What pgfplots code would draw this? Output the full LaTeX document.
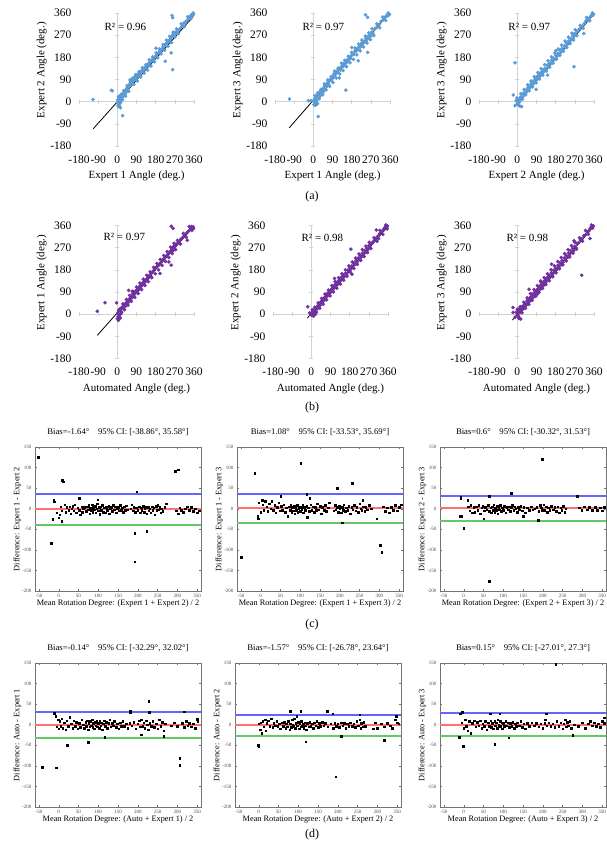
\documentclass[border=0pt]{standalone}
\usepackage{fontspec}
\setmainfont{Liberation Serif}
\usepackage{pgfplots}
\pgfplotsset{compat=1.18}
\definecolor{xlblue}{HTML}{5B9BD5}
\definecolor{xlpurple}{HTML}{7030A0}
\definecolor{loaup}{HTML}{6464FF}
\definecolor{biasln}{HTML}{FF7070}
\definecolor{loalo}{HTML}{64C864}

\pgfplotsset{
  sc/.style={
    scale only axis, width=115pt, height=133pt,
    xmin=-180, xmax=360, ymin=-180, ymax=360,
    xtick={-180,-90,0,90,180,270,360}, ytick={-180,-90,0,90,180,270,360},
    xticklabels={-180,-90,0,90,180,270,360},
    yticklabels={-180,-90,0,90,180,270,360},
    axis line style={draw=none}, tick style={draw=none},
    tick label style={font=\fontsize{11.5}{12}\selectfont},
    xticklabel style={yshift=-6pt},
    yticklabel style={xshift=-4pt},
    label style={font=\fontsize{11}{12}\selectfont},
    xlabel style={at={(axis description cs:0.5,-0.225)}, anchor=center},
    ylabel style={at={(axis description cs:-0.325,0.57)}, anchor=center},
    clip=false,
  },
  ba/.style={
    scale only axis, width=166pt, height=144pt,
    xmin=-60, xmax=360, ymin=-200, ymax=150,
    xtick={-50,0,50,100,150,200,250,300,350},
    xticklabels={-50,0,50,100,150,200,250,300,350},
    ytick={-200,-150,-100,-50,0,50,100,150},
    yticklabels={-200,-150,-100,-50,0,50,100,150},
    tick align=inside, major tick length=2pt,
    axis line style={black!55}, tick style={black!55},
    tick label style={font=\fontsize{5}{6}\selectfont, text=black!70},
    title style={font=\fontsize{8.7}{10}\selectfont, at={(axis description cs:0.5,1.0625)}, anchor=center},
    label style={font=\fontsize{8.3}{10}\selectfont},
    xlabel style={at={(axis description cs:0.5,-0.09)}, anchor=center},
    ylabel style={at={(axis description cs:-0.107,0.5)}, anchor=center},
  },
  scpt/.style={only marks, color=#1, mark=*, mark size=1.6pt, mark options={draw=#1, fill=#1}},
  bapt/.style={only marks, color=black, mark=square*, mark size=0.8pt, mark options={draw=black, fill=black}},
}

\newcommand\zeroaxes{%
  \addplot[gray!35, line width=0.7pt] coordinates {(-180,0) (360,0)};
  \addplot[gray!35, line width=0.7pt] coordinates {(0,-180) (0,360)};
  \addplot[only marks, mark=|, mark size=2pt, gray!35] coordinates {(-180,0) (-90,0) (90,0) (180,0) (270,0) (360,0)};
  \addplot[only marks, mark=-, mark size=2pt, gray!35] coordinates {(0,-180) (0,-90) (0,90) (0,180) (0,270) (0,360)};
}
\newcommand\balines[3]{%
  \addplot[color=loaup, line width=2pt] coordinates {(-60,#1) (360,#1)};
  \addplot[color=biasln, line width=2pt] coordinates {(-60,#2) (360,#2)};
  \addplot[color=loalo, line width=2pt] coordinates {(-60,#3) (360,#3)};
}

\begin{document}
\begin{tikzpicture}
\useasboundingbox (0,0) rectangle (607pt,848pt);

% ---------------- row (a) ----------------
\begin{axis}[sc, at={(79pt,702pt)}, anchor=south west,
  xlabel={Expert 1 Angle (deg.)}, ylabel={Expert 2 Angle (deg.)}]
\zeroaxes
\addplot[scpt=xlblue] coordinates {
(0,-5) (2,8) (4,-15) (5,3) (6,-20) (8,12) (10,-8) (12,5) (14,22) (15,-3) (18,14) (20,30) (22,10) (25,20) (28,35) (30,24)
(33,40) (36,30) (40,48) (42,38) (45,55) (48,50) (50,60) (55,62) (58,72) (60,88) (62,68) (65,80) (68,90) (70,76) (72,95)
(75,85) (78,92) (80,100) (83,90) (86,104) (90,98) (93,110) (96,100) (100,108) (103,118) (106,112) (110,120) (114,126)
(118,124) (122,132) (126,130) (130,140) (134,138) (138,146) (142,150) (146,148) (150,158) (155,160) (160,164) (165,172)
(170,174) (175,180) (180,184) (185,190) (190,196) (195,198) (200,206) (205,210) (210,214) (215,222) (220,226) (225,232)
(230,236) (235,240) (240,246) (245,250) (250,255) (255,262) (258,270) (262,266) (265,275) (268,280) (272,276) (276,282)
(280,284) (290,292) (298,300) (305,308) (312,318) (320,324) (328,330) (335,338) (340,342) (345,350) (348,346) (350,354)
(352,348) (355,352) (358,356)
(5,20) (10,-15) (16,28) (24,8) (30,45) (38,22) (46,65) (54,42) (62,80) (70,92) (78,70) (86,110) (94,84) (102,122)
(110,100) (118,138) (126,116) (134,150) (142,128) (150,170) (158,145) (166,182) (174,162) (182,198) (190,178) (198,214)
(206,194) (214,232) (222,208) (230,250) (238,225) (246,265) (254,240) (262,282) (270,262) (278,295) (286,276) (300,316)
(315,305) (330,345) (345,336) (356,360)
(-114,9) (-28,46) (-24,44) (25,-57) (257,350) (260,341) (260,130) (225,164) (182,217) (253,198) (15,-25) (5,-10)
};
\addplot[black, line width=0.8pt] coordinates {(-113,-110) (357,346)};
\node[font=\fontsize{11}{12}\selectfont] at (axis cs:38,305) {R² = 0.96};
\end{axis}

\begin{axis}[sc, at={(275pt,702pt)}, anchor=south west,
  xlabel={Expert 1 Angle (deg.)}, ylabel={Expert 3 Angle (deg.)}]
\zeroaxes
\addplot[scpt=xlblue] coordinates {
(0,3) (3,-12) (5,10) (7,-5) (10,15) (12,0) (15,22) (18,8) (20,-8) (24,28) (27,18) (30,40) (34,25) (38,36) (42,30) (45,52)
(48,40) (52,62) (56,50) (60,70) (64,62) (68,78) (72,70) (76,85) (80,92) (84,88) (88,100) (92,96) (96,112) (100,106)
(104,120) (108,118) (112,124) (116,118) (120,132) (124,136) (128,128) (132,142) (136,140) (140,150) (144,156) (148,146)
(152,162) (156,158) (160,170) (165,168) (170,180) (175,176) (180,188) (185,194) (190,192) (195,206) (200,204) (205,216)
(210,212) (215,224) (220,222) (225,236) (230,232) (235,244) (240,242) (245,256) (250,250) (255,264) (260,258) (265,272)
(270,266) (275,282) (280,278) (288,296) (295,300) (302,312) (310,314) (318,326) (325,330) (332,340) (338,344) (342,346)
(346,352) (350,348) (354,356) (358,354)
(8,25) (14,-12) (20,35) (28,12) (36,50) (44,28) (52,72) (60,48) (68,88) (76,62) (84,102) (92,78) (100,124) (108,96)
(116,136) (124,112) (132,156) (140,126) (148,168) (156,142) (164,184) (172,158) (180,200) (188,172) (196,218) (204,190)
(212,234) (220,206) (228,250) (236,222) (244,266) (252,238) (260,280) (268,252) (276,296) (284,268) (298,316) (312,300)
(326,344) (340,330) (352,360)
(-112,11) (-23,4) (-11,4) (23,-60) (245,353) (255,342) (255,200) (153,47) (211,166) (122,96) (180,220) (8,-15) (15,-10)
};
\addplot[black, line width=0.8pt] coordinates {(-113,-106) (352,354)};
\node[font=\fontsize{11}{12}\selectfont] at (axis cs:47,305) {R² = 0.97};
\end{axis}

\begin{axis}[sc, at={(479pt,702pt)}, anchor=south west,
  xlabel={Expert 2 Angle (deg.)}, ylabel={Expert 3 Angle (deg.)}]
\zeroaxes
\addplot[scpt=xlblue] coordinates {
(-10,-15) (-5,5) (0,-5) (3,-12) (6,8) (10,-2) (14,18) (18,10) (22,30) (26,20) (30,36) (35,28) (40,46) (44,40) (48,55)
(52,46) (56,62) (60,58) (64,72) (68,64) (72,80) (76,74) (80,88) (84,82) (88,96) (92,90) (96,104) (100,98) (104,112)
(108,106) (112,120) (116,114) (120,130) (125,122) (130,136) (135,132) (140,148) (145,142) (150,156) (155,152) (160,168)
(165,162) (170,176) (175,172) (180,188) (185,182) (190,196) (195,192) (200,208) (205,202) (210,216) (215,212) (220,226)
(225,222) (230,238) (235,232) (240,246) (245,242) (250,256) (255,252) (260,268) (262,258) (265,274) (268,266) (270,276)
(274,272) (280,284) (290,294) (298,302) (306,308) (315,318) (322,328) (330,332) (338,340) (344,346) (350,352) (354,350)
(358,356)
(-2,15) (8,-15) (16,32) (24,10) (32,50) (40,28) (48,68) (56,44) (64,84) (72,60) (80,102) (88,76) (96,118) (104,92)
(112,134) (120,108) (128,150) (136,124) (144,166) (152,140) (160,182) (168,156) (176,198) (184,172) (192,214) (200,188)
(208,230) (216,204) (224,246) (232,220) (240,262) (248,236) (256,278) (264,250) (272,292) (280,268) (295,310) (310,298)
(325,342) (340,328) (352,360)
(-11,158) (-19,27) (12,-18) (20,-20) (266,142) (312,277) (88,50) (142,108) (181,207)
};
\addplot[black, line width=0.8pt] coordinates {(-15,-22) (362,358)};
\node[font=\fontsize{11}{12}\selectfont] at (axis cs:56,305) {R² = 0.97};
\end{axis}

% ---------------- row (b) ----------------
\begin{axis}[sc, at={(79pt,489.5pt)}, anchor=south west,
  xlabel={Automated Angle (deg.)}, ylabel={Expert 1 Angle (deg.)}]
\zeroaxes
\addplot[scpt=xlpurple] coordinates {
(0,-18) (2,5) (4,-10) (6,15) (8,-5) (10,20) (12,0) (15,12) (18,25) (20,8) (24,30) (28,22) (32,38) (36,30) (40,45) (44,40)
(48,52) (52,48) (56,62) (60,58) (64,70) (68,66) (72,82) (76,76) (80,88) (84,84) (88,96) (92,92) (96,104) (100,100)
(104,112) (108,110) (112,118) (116,116) (120,128) (124,124) (128,134) (132,132) (136,142) (140,140) (144,150) (148,148)
(152,158) (156,156) (160,166) (165,170) (170,176) (175,180) (180,188) (185,192) (190,196) (195,200) (200,206) (205,210)
(210,216) (215,222) (220,226) (225,232) (230,236) (235,240) (240,246) (245,252) (250,256) (255,262) (260,268) (262,258)
(265,276) (268,270) (272,280) (276,284) (282,286) (290,294) (298,304) (306,310) (314,318) (322,326) (330,334) (338,340)
(344,348) (348,356) (352,350) (356,354) (358,348)
(6,-22) (12,20) (18,2) (26,42) (34,18) (42,60) (50,36) (58,76) (66,52) (74,92) (82,68) (90,110) (98,84) (106,126)
(114,100) (122,142) (130,116) (138,158) (146,132) (154,172) (162,148) (170,190) (178,164) (186,206) (194,180) (202,222)
(210,198) (218,238) (226,214) (234,254) (242,230) (250,272) (258,246) (266,288) (274,262) (282,300) (296,284) (310,328)
(324,312) (338,356) (350,340)
(-94,12) (-58,46) (-3,46) (253,357) (262,348) (253,199) (242,212) (200,165) (328,300) (53,97) (70,93) (5,-25) (14,-15)
};
\addplot[black, line width=0.8pt] coordinates {(-94,-86) (357,354)};
\node[font=\fontsize{11}{12}\selectfont] at (axis cs:33,313) {R² = 0.97};
\end{axis}

\begin{axis}[sc, at={(273pt,489.5pt)}, anchor=south west,
  xlabel={Automated Angle (deg.)}, ylabel={Expert 2 Angle (deg.)}]
\zeroaxes
\addplot[scpt=xlpurple] coordinates {
(-8,5) (0,-4) (3,8) (5,-2) (8,12) (10,4) (14,18) (18,10) (22,26) (26,20) (30,34) (34,28) (38,42) (42,36) (46,52) (50,46)
(54,60) (58,54) (62,68) (66,60) (70,78) (74,72) (78,86) (82,80) (86,94) (90,88) (94,102) (98,96) (102,110) (106,104)
(110,118) (114,112) (118,126) (122,120) (126,134) (130,128) (134,142) (138,136) (142,150) (146,144) (150,158) (155,152)
(160,166) (165,162) (170,178) (175,172) (180,188) (185,182) (190,196) (195,192) (200,208) (205,202) (210,218) (215,212)
(220,228) (225,222) (230,238) (235,232) (240,248) (245,242) (250,258) (255,252) (260,268) (265,262) (270,278) (275,272)
(280,286) (288,292) (296,300) (304,308) (312,316) (320,326) (328,332) (336,340) (342,348) (346,352) (350,356) (354,350)
(358,358) (356,346)
(4,18) (10,-8) (16,28) (24,8) (32,46) (40,24) (48,64) (56,40) (64,82) (72,58) (80,98) (88,74) (96,116) (104,90)
(112,132) (120,106) (128,148) (136,122) (144,164) (152,138) (160,180) (168,154) (176,196) (184,170) (192,212) (200,186)
(208,228) (216,202) (224,244) (232,218) (240,262) (248,234) (256,276) (264,250) (272,292) (280,266) (294,310) (308,296)
(322,340) (336,324) (350,362)
(-17,30) (186,264) (305,342) (109,145) (191,162) (316,307) (20,0) (12,-6)
};
\addplot[black, line width=0.8pt] coordinates {(-19,-16) (362,358)};
\node[font=\fontsize{11}{12}\selectfont] at (axis cs:52,309) {R² = 0.98};
\end{axis}

\begin{axis}[sc, at={(479pt,489.5pt)}, anchor=south west,
  xlabel={Automated Angle (deg.)}, ylabel={Expert 3 Angle (deg.)}]
\zeroaxes
\addplot[scpt=xlpurple] coordinates {
(-10,-12) (-5,8) (0,0) (3,15) (6,-8) (9,22) (12,6) (15,25) (18,14) (22,30) (26,20) (30,36) (34,26) (38,44) (42,36) (46,55)
(50,45) (54,62) (58,52) (62,70) (66,60) (70,78) (74,68) (78,86) (82,76) (86,94) (90,84) (94,102) (98,92) (102,110)
(106,100) (110,118) (114,108) (118,126) (122,116) (126,134) (130,126) (134,142) (138,134) (142,150) (146,142) (150,158)
(155,150) (160,168) (165,160) (170,178) (175,170) (180,188) (185,180) (190,198) (195,190) (200,208) (205,200) (210,218)
(215,210) (220,228) (225,220) (230,238) (235,230) (240,248) (245,240) (250,258) (255,250) (260,268) (265,258) (270,276)
(275,270) (280,288) (288,290) (296,302) (304,306) (312,318) (320,322) (328,334) (336,338) (342,348) (346,352) (350,356)
(354,350) (357,358)
(0,20) (7,-14) (14,30) (22,6) (30,48) (38,24) (46,66) (54,40) (62,84) (70,56) (78,100) (86,72) (94,116) (102,88)
(110,132) (118,104) (126,148) (134,120) (142,164) (150,136) (158,180) (166,152) (174,196) (182,168) (190,214) (198,184)
(206,230) (214,200) (222,246) (230,216) (238,262) (246,232) (254,278) (262,248) (270,292) (278,264) (292,310) (306,296)
(320,340) (334,324) (348,362)
(-20,27) (-20,7) (8,-18) (16,-20) (302,158) (55,101) (94,81) (161,203) (109,135) (266,298) (341,307)
};
\addplot[black, line width=0.8pt] coordinates {(-23,-24) (356,354)};
\node[font=\fontsize{11}{12}\selectfont] at (axis cs:47,309) {R² = 0.98};
\end{axis}

% ---------------- row (c) ----------------
\begin{axis}[ba, at={(35pt,257pt)}, anchor=south west,
  title={Bias=-1.64°\hspace{1em}95\% CI: [-38.86°, 35.58°]},
  xlabel={Mean Rotation Degree: (Expert 1 + Expert 2) / 2},
  ylabel={Difference: Expert 1 - Expert 2}]
\balines{35.58}{-1.64}{-38.86}
\addplot[bapt] coordinates {
(-5,-10) (0,-22) (3,-15) (5,5) (8,-5) (15,10) (18,-8) (20,3) (25,-3) (28,5) (30,-12) (33,0) (35,6) (38,-5) (40,10)
(45,-10) (48,2) (52,-3) (55,-15) (58,5) (60,-8) (62,0) (65,3) (70,-6) (72,5) (75,-2) (76,8) (78,-12) (80,2) (82,-4)
(84,10) (86,-8) (88,4) (90,-2) (92,6) (94,-10) (96,0) (98,12) (100,-5) (102,3) (104,-14) (106,5) (108,-3) (110,8)
(112,-8) (115,2) (118,-10) (120,4) (123,-4) (126,6) (128,-12) (130,0) (133,3) (136,-6) (138,8) (140,-2) (143,5) (146,-10)
(148,0) (150,4) (153,-5) (156,8) (158,-3) (160,2) (163,-8) (165,5) (168,-4) (170,7) (175,-2) (182,0) (185,10) (188,-5)
(190,3) (193,-8) (196,2) (200,-4) (203,5) (206,-10) (208,2) (210,-3) (213,6) (216,-8) (218,0) (220,3) (223,-12) (226,4)
(228,-5) (230,0) (233,-10) (236,5) (238,-3) (240,2) (243,-15) (246,6) (248,-4) (250,8) (253,-2) (256,4) (258,-10)
(260,0) (263,-6) (268,3) (272,12) (298,-5) (302,-12) (306,2) (310,-3) (315,-8) (320,0) (325,5) (330,-4) (335,3) (340,-6)
(345,0) (350,-10) (355,-5)
(-52,125) (-19,-84) (9,70) (12,66) (-13,20) (-12,17) (-15,-25) (8,-32) (8,-29) (192,-59) (192,-129) (197,41) (223,-54)
(295,91) (302,95) (52,25) (99,22)
};
\end{axis}

\begin{axis}[ba, at={(237pt,257pt)}, anchor=south west,
  title={Bias=1.08°\hspace{1em}95\% CI: [-33.53°, 35.69°]},
  xlabel={Mean Rotation Degree: (Expert 1 + Expert 3) / 2},
  ylabel={Difference: Expert 1 - Expert 3}]
\balines{35.69}{1.08}{-33.53}
\addplot[bapt] coordinates {
(-5,15) (0,-8) (3,20) (5,10) (8,-3) (12,18) (15,5) (18,-6) (22,12) (25,0) (28,18) (32,-4) (35,8) (38,-10) (42,4)
(45,15) (48,-5) (52,6) (55,-3) (58,10) (62,-8) (65,2) (68,-18) (72,5) (74,-3) (76,8) (78,-10) (80,3) (82,-5) (84,6)
(86,-12) (88,2) (90,-4) (92,8) (94,-8) (96,0) (98,5) (100,-6) (102,3) (104,-2) (106,8) (108,-10) (110,4) (113,-4)
(116,6) (118,-20) (120,2) (123,-6) (126,10) (129,-3) (132,5) (135,-8) (138,3) (140,-4) (143,12) (146,-2) (150,6)
(153,-12) (156,3) (160,-4) (163,8) (166,-6) (170,2) (173,15) (185,-5) (188,8) (190,-2) (193,4) (196,-8) (198,6) (200,0)
(203,-10) (206,4) (208,-3) (210,10) (213,-6) (216,2) (220,-4) (223,6) (226,-12) (230,3) (233,-2) (236,8) (240,-5)
(243,4) (246,-8) (250,12) (253,0) (256,-4) (258,20) (260,5) (263,-6) (266,3) (270,-2) (275,8) (280,0) (310,5) (315,-6)
(320,2) (325,-10) (330,4) (335,-3) (340,8) (345,-5) (350,3) (355,10)
(-50,-118) (-15,87) (101,110) (116,35) (124,25) (51,31) (-8,-18) (-6,-24) (193,50) (232,62) (206,-34) (303,-88)
(306,-105) (293,-24)
};
\end{axis}

\begin{axis}[ba, at={(440pt,257pt)}, anchor=south west,
  title={Bias=0.6°\hspace{1em}95\% CI: [-30.32°, 31.53°]},
  xlabel={Mean Rotation Degree: (Expert 2 + Expert 3) / 2},
  ylabel={Difference: Expert 2 - Expert 3}]
\balines{31.53}{0.6}{-30.32}
\addplot[bapt] coordinates {
(10,20) (12,5) (15,-5) (18,8) (22,-10) (25,3) (28,-8) (32,5) (35,-3) (38,8) (42,-12) (45,2) (48,6) (52,-5) (55,4)
(58,-2) (62,8) (65,-6) (68,2) (70,-10) (72,5) (74,-3) (76,10) (78,-8) (80,2) (82,-4) (84,6) (86,-12) (88,3) (90,-2)
(92,8) (95,-6) (98,2) (100,-3) (103,6) (106,-10) (109,3) (112,-2) (115,5) (118,-6) (120,2) (123,8) (126,-4) (129,5)
(132,0) (135,-8) (138,4) (141,-2) (144,6) (148,-5) (152,3) (156,-10) (160,2) (165,-3) (170,5) (175,-2) (180,0) (185,4)
(190,-6) (193,8) (196,2) (199,-4) (202,10) (205,-3) (208,5) (211,-8) (214,2) (218,-4) (222,6) (226,-2) (230,3) (234,-6)
(238,5) (242,-10) (245,2) (248,-4) (252,6) (255,-8) (258,0) (292,2) (298,-3) (305,5) (312,-2) (318,3) (325,-4) (332,4)
(338,-3) (345,2) (350,-5) (355,3)
(-8,28) (-8,25) (-9,-18) (-7,-18) (0,-48) (65,31) (65,-176) (120,37) (198,120) (188,-28) (51,-24) (287,31) (151,-18)
};
\end{axis}

% ---------------- row (d) ----------------
\begin{axis}[ba, at={(35pt,41pt)}, anchor=south west,
  title={Bias=-0.14°\hspace{1em}95\% CI: [-32.29°, 32.02°]},
  xlabel={Mean Rotation Degree: (Auto + Expert 1) / 2},
  ylabel={Difference: Auto - Expert 1}]
\balines{32.02}{-0.14}{-32.29}
\addplot[bapt] coordinates {
(-8,20) (-5,-5) (-2,12) (0,-10) (2,8) (5,-3) (8,15) (10,-8) (14,5) (18,-12) (20,10) (24,-4) (28,18) (32,2) (35,-8)
(38,10) (42,-3) (45,6) (48,-10) (52,4) (55,-6) (58,12) (62,0) (65,-8) (68,6) (70,-3) (72,10) (74,-12) (76,4) (78,-5)
(80,8) (82,-2) (84,12) (86,-6) (88,3) (90,-10) (92,6) (94,-2) (96,10) (98,-5) (100,3) (102,-8) (104,8) (106,-2)
(108,5) (110,-12) (112,2) (115,10) (118,-4) (120,6) (123,-8) (126,3) (129,12) (132,-5) (135,4) (138,-2) (141,8)
(145,-6) (148,2) (152,-10) (155,5) (158,-3) (162,8) (166,-4) (170,2) (175,-8) (180,4) (185,-2) (190,6) (195,-10)
(200,2) (203,10) (206,-5) (209,12) (212,-3) (215,5) (218,-8) (221,10) (224,0) (227,-12) (230,4) (234,-4) (238,8)
(242,-6) (246,2) (250,-10) (254,12) (258,-3) (262,6) (266,-15) (270,2) (285,-2) (292,5) (300,-4) (312,3) (318,-6)
(322,8) (326,-2) (330,4) (335,-5) (340,2) (345,-8) (350,14) (352,8)
(-42,-103) (-7,-104) (-11,28) (21,-50) (74,-43) (116,-31) (228,57) (229,31) (181,30) (181,33) (306,-81) (306,-98)
(317,32) (266,-28) (209,-24)
};
\end{axis}

\begin{axis}[ba, at={(235pt,41pt)}, anchor=south west,
  title={Bias=-1.57°\hspace{1em}95\% CI: [-26.78°, 23.64°]},
  xlabel={Mean Rotation Degree: (Auto + Expert 2) / 2},
  ylabel={Difference: Auto - Expert 2}]
\balines{23.64}{-1.57}{-26.78}
\addplot[bapt] coordinates {
(0,2) (3,-12) (5,5) (8,-20) (10,8) (13,-5) (16,12) (18,-15) (20,3) (24,10) (28,-3) (32,15) (35,-6) (38,4) (42,-2)
(45,8) (48,-4) (52,2) (55,-10) (58,5) (62,-3) (65,6) (68,-8) (70,2) (72,-5) (75,8) (78,-12) (80,2) (82,-6) (84,12)
(86,0) (88,-4) (90,15) (92,-8) (94,4) (96,20) (98,-2) (100,6) (102,-10) (104,3) (106,-5) (108,8) (110,-3) (112,2)
(114,-8) (116,5) (118,-2) (120,-12) (123,4) (126,-5) (129,6) (132,-3) (135,2) (138,-8) (141,5) (144,-2) (147,8)
(150,-6) (153,3) (156,-4) (160,6) (164,-2) (168,3) (175,-5) (182,2) (188,-8) (192,4) (196,-3) (200,2) (204,-6) (208,5)
(212,-2) (216,4) (220,-8) (224,2) (228,-4) (232,5) (236,-3) (240,2) (244,-6) (248,8) (252,-2) (255,12) (258,-8) (260,4)
(263,-5) (266,6) (270,-3) (290,-10) (295,5) (300,-8) (310,2) (318,-5) (325,3) (332,-2) (338,-8) (345,12) (348,20)
(350,5) (354,2)
(-2,-50) (0,-52) (106,33) (173,33) (187,27) (119,-41) (195,-126) (209,-28) (318,-38) (256,24) (80,33)
};
\end{axis}

\begin{axis}[ba, at={(440pt,41pt)}, anchor=south west,
  title={Bias=0.15°\hspace{1em}95\% CI: [-27.01°, 27.3°]},
  xlabel={Mean Rotation Degree: (Auto + Expert 3) / 2},
  ylabel={Difference: Auto - Expert 3}]
\balines{27.3}{0.15}{-27.01}
\addplot[bapt] coordinates {
(-5,5) (0,-8) (3,12) (6,-3) (10,-15) (14,8) (18,-20) (22,4) (26,10) (30,-5) (34,6) (38,-2) (42,10) (45,-8) (48,2)
(52,-4) (55,8) (58,-12) (62,5) (65,-3) (68,10) (70,-6) (72,3) (75,-10) (78,8) (80,-2) (82,5) (84,-8) (86,12) (88,0)
(90,-5) (92,8) (94,-3) (96,5) (98,-10) (100,3) (103,-4) (106,8) (109,-2) (112,5) (115,-6) (118,3) (121,-3) (124,6)
(127,-8) (130,2) (133,-4) (136,5) (140,-2) (144,8) (148,-6) (152,2) (156,-10) (160,4) (165,-3) (172,5) (178,-2)
(184,3) (190,-5) (195,2) (200,-8) (205,4) (210,-2) (215,5) (220,-4) (225,2) (230,-6) (235,8) (240,-3) (245,5) (250,-10)
(253,2) (256,12) (259,-5) (262,6) (265,-2) (268,8) (272,-8) (280,0) (290,-4) (300,5) (308,-8) (315,2) (320,8) (325,-2)
(330,5) (335,-4) (340,2) (345,-6) (350,8) (355,3)
(233,147) (-9,27) (-4,31) (-11,-30) (-1,-52) (67,27) (91,27) (78,-48) (114,-32) (209,27) (206,12) (276,-26) (355,17)
};
\end{axis}

% panel letters
\node[font=\fontsize{12}{14}\selectfont] at (312pt,651pt) {(a)};
\node[font=\fontsize{12}{14}\selectfont] at (312pt,440pt) {(b)};
\node[font=\fontsize{12}{14}\selectfont] at (312pt,223pt) {(c)};
\node[font=\fontsize{12}{14}\selectfont] at (312pt,13pt) {(d)};
\end{tikzpicture}
\end{document}
